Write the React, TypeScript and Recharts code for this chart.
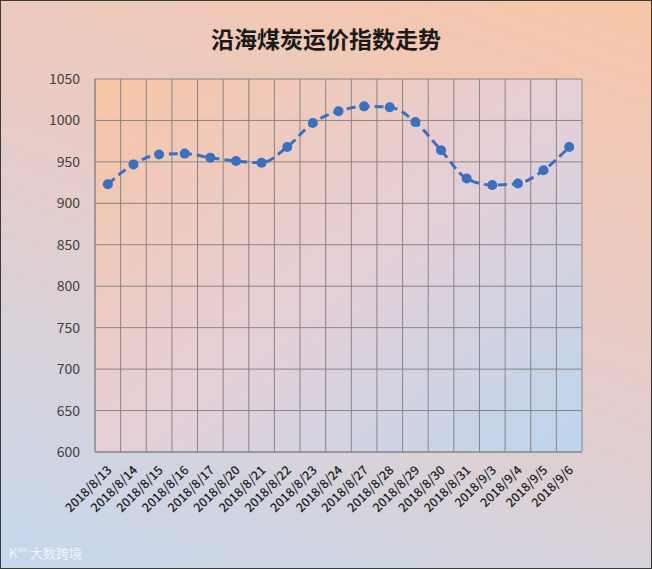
import React from 'react';
import { LineChart, Line, CartesianGrid, XAxis, YAxis } from 'recharts';

const dates = [
  '2018/8/13', '2018/8/14', '2018/8/15', '2018/8/16', '2018/8/17', '2018/8/20', '2018/8/21',
  '2018/8/22', '2018/8/23', '2018/8/24', '2018/8/27', '2018/8/28', '2018/8/29', '2018/8/30',
  '2018/8/31', '2018/9/3', '2018/9/4', '2018/9/5', '2018/9/6',
];
const indexValues = [923, 947, 959, 960, 955, 951, 949, 968, 997, 1011, 1017, 1016, 998, 964, 930, 922, 924, 940, 968];
const yTicks = [600, 650, 700, 750, 800, 850, 900, 950, 1000, 1050];

const data = dates.map((d, i) => ({ date: d, value: indexValues[i] }));

const font = '"Noto Sans CJK SC", "Noto Sans", sans-serif';

const DateTick = (props: any) => {
  const { x, y, payload } = props;
  const ty = y + 8;
  return (
    <text
      x={x + 2}
      y={ty}
      dy={4}
      transform={`rotate(-45, ${x + 2}, ${ty})`}
      textAnchor="end"
      fontSize={12.5}
      fontWeight={500}
      fill="#222"
      fontFamily={font}
    >
      {payload.value}
    </text>
  );
};

// grid lines sit on category boundaries, not centres
const boundaries = ({ offset }: any) =>
  dates.map((_, i) => offset.left + (i * offset.width) / dates.length).concat(offset.left + offset.width);

export default function App() {
  return (
    <div
      style={{
        position: 'relative',
        width: 652,
        height: 569,
        boxSizing: 'border-box',
        border: '1px solid #3a3a3a',
        background: 'linear-gradient(200deg, #f7c6a8 0%, #e8ccc8 45%, #c5d8ee 100%)',
        fontFamily: font,
      }}
    >
      <style>{'body{margin:0}'}</style>
      <div
        style={{
          position: 'absolute',
          top: 20,
          left: 0,
          width: 650,
          textAlign: 'center',
          fontSize: 23,
          fontWeight: 'bold',
          color: '#1a1a1a',
        }}
      >
        沿海煤炭运价指数走势
      </div>
      <LineChart width={650} height={567} data={data} margin={{ top: 78, right: 69, bottom: 26, left: 44 }}>
        <defs>
          <linearGradient id="plotBg" x1="0" y1="0" x2="1" y2="1">
            <stop offset="0%" stopColor="#f7c5a4" />
            <stop offset="50%" stopColor="#e6cfd6" />
            <stop offset="100%" stopColor="#bcd6ef" />
          </linearGradient>
        </defs>
        <CartesianGrid
          stroke="#8a8484"
          strokeWidth={1}
          fill="url(#plotBg)"
          fillOpacity={1}
          verticalCoordinatesGenerator={boundaries}
        />
        <XAxis
          dataKey="date"
          scale="band"
          interval={0}
          height={90}
          axisLine={{ stroke: '#8a8484' }}
          tickLine={false}
          tick={<DateTick />}
        />
        <YAxis
          width={50}
          domain={[600, 1050]}
          ticks={yTicks}
          interval={0}
          axisLine={{ stroke: '#8a8484' }}
          tickLine={false}
          tick={{ fontSize: 14, fill: '#404040', fontFamily: font }}
          tickMargin={9}
        />
        <Line
          type="monotone"
          dataKey="value"
          stroke="#3a70bd"
          strokeWidth={3}
          strokeDasharray="9 5"
          dot={{ r: 5, fill: '#3a70bd', stroke: '#3a70bd', strokeWidth: 0 }}
          isAnimationActive={false}
        />
      </LineChart>
      <div
        style={{
          position: 'absolute',
          left: 8,
          bottom: 6,
          fontSize: 13,
          color: 'rgba(255,255,255,0.75)',
        }}
      >
        K°° 大数跨境
      </div>
    </div>
  );
}
